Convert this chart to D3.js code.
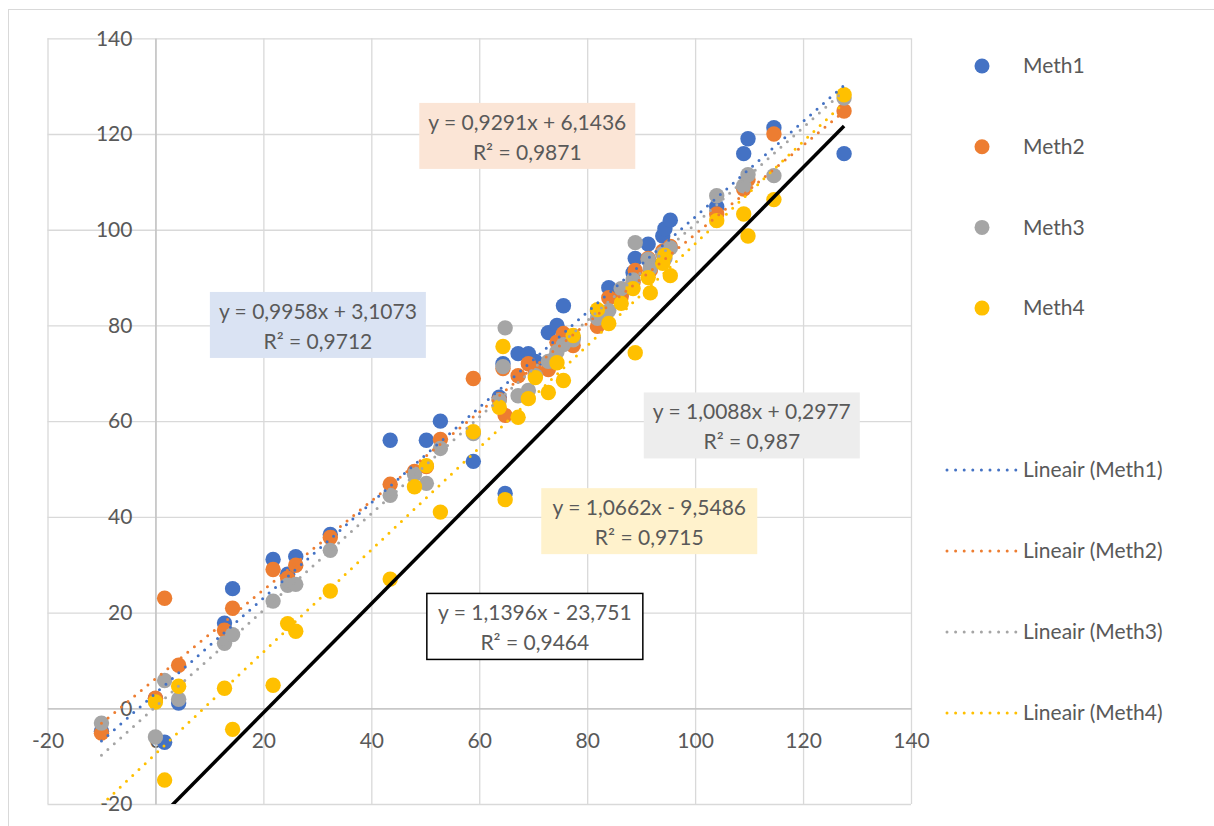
<!DOCTYPE html>
<html>
<head>
<meta charset="utf-8">
<script src="https://cdn.jsdelivr.net/npm/d3@7"></script>
<style>
  body { margin: 0; background: #fff; }
  text { font-family: Lato, "Liberation Sans", sans-serif; fill: #595959; }
</style>
</head>
<body>
<div class="holder"></div>
<script>
"use strict";

// shared sample values (x) and the four methods (y)
const xValues = [
  -10, 0, 1.7, 4.3, 12.8, 14.3, 21.8, 24.5, 26, 32.4,
  43.5, 48, 50.2, 52.8, 58.9, 63.7, 64.4, 64.8, 67.2, 69.1,
  70.4, 72.8, 74.4, 75.6, 77.4, 81.9, 84, 86.3, 88.5, 88.9,
  91.3, 91.7, 94, 94.4, 95.4, 104, 109, 109.8, 114.6, 127.6
];
const meth1 = [
  -4.8, 2.0, -7.1, 1.1, 17.8, 25.0, 31.1, 28.0, 31.7, 36.3,
  56.0, 49.3, 56.0, 60.0, 51.6, 65.0, 72.0, 44.9, 74.1, 74.1,
  72.5, 78.5, 80.0, 84.1, 77.5, 83.0, 87.9, 86.5, 91.0, 94.0,
  97.0, 93.0, 98.7, 100.2, 102.0, 104.8, 115.9, 119.0, 121.3, 115.9
];
const meth2 = [
  -5.2, 2.1, 23.0, 9.0, 16.3, 20.9, 29.0, 27.2, 29.9, 35.7,
  46.8, 49.5, 50.5, 56.2, 68.9, 64.5, 71.0, 61.2, 69.5, 72.0,
  70.5, 70.8, 76.5, 78.3, 75.8, 79.8, 85.8, 86.0, 89.0, 91.5,
  94.0, 91.5, 95.5, 95.0, 96.5, 103.3, 108.5, 110.5, 120.0, 124.8
];
const meth3 = [
  -3.1, -6.0, 5.8, 1.9, 13.6, 15.4, 22.4, 25.7, 25.9, 33.0,
  44.5, 48.9, 47.0, 54.3, 57.4, 64.3, 71.4, 79.5, 65.3, 66.4,
  69.5, 72.5, 74.5, 76.0, 77.0, 81.5, 83.1, 87.7, 89.5, 97.3,
  93.8, 92.0, 95.0, 94.0, 96.2, 107.1, 109.2, 111.5, 111.3, 127.5
];
const meth4 = [
  -22.0, 1.3, -15.0, 4.6, 4.2, -4.4, 4.8, 17.7, 16.1, 24.5,
  27.0, 46.3, 50.7, 41.0, 57.8, 62.9, 75.6, 43.6, 60.8, 64.7,
  69.1, 66.0, 72.2, 68.5, 77.9, 83.3, 80.4, 84.6, 87.7, 74.3,
  90.0, 86.8, 93.0, 94.6, 90.4, 101.9, 103.3, 98.7, 106.3, 128.2
];

const seriesNames = ["Meth1", "Meth2", "Meth3", "Meth4"];
const seriesColors = ["#4472c4", "#ed7d31", "#a5a5a5", "#ffc000"];
const seriesValues = [meth1, meth2, meth3, meth4];

// trendline coefficients as printed on the chart
const slopes = [0.9958, 0.9291, 1.0088, 1.0662];
const intercepts = [3.1073, 6.1436, 0.2977, -9.5486];
const rSquared = [0.9712, 0.9871, 0.987, 0.9715];
const labelFills = ["#dae3f3", "#fbe5d6", "#ededed", "#fff2cc"];
// label box anchors (centre x, top y) in data units
const labelAnchors = [[30.1, 87], [68.9, 126.5], [110.5, 66], [91.5, 46]];

// black reference line
const refSlope = 1.1396;
const refIntercept = -23.751;
const refR2 = 0.9464;
const refAnchor = [70.3, 24];

const tickValues = [-20, 0, 20, 40, 60, 80, 100, 120, 140];

const w = 1214;
const h = 826;
const plotLeft = 47.5, plotRight = 911, plotTop = 38.3, plotBottom = 804;

const x = d3.scaleLinear().domain([-20, 140]).range([plotLeft, plotRight]);
const y = d3.scaleLinear().domain([-20, 140]).range([plotBottom, plotTop]);

const fmt = (v) => String(Math.abs(v)).replace(".", ",");
const eqText = (a, b) =>
  "y = " + fmt(a) + "x " + (b < 0 ? "- " : "+ ") + fmt(b);

const svg = d3
  .select(".holder")
  .append("svg")
  .attr("width", w)
  .attr("height", h);

// chart border
svg
  .append("rect")
  .attr("x", 8.5)
  .attr("y", 9.5)
  .attr("width", w + 20)
  .attr("height", h + 20)
  .attr("fill", "none")
  .attr("stroke", "#d9d9d9");

svg
  .append("clipPath")
  .attr("id", "plot-clip")
  .append("rect")
  .attr("x", plotLeft)
  .attr("y", plotTop)
  .attr("width", plotRight - plotLeft)
  .attr("height", plotBottom - plotTop);

// gridlines
const gridX = svg
  .append("g")
  .attr("transform", "translate(0," + plotBottom + ")")
  .call(d3.axisBottom(x).tickValues(tickValues).tickSize(-(plotBottom - plotTop)).tickFormat(""));
const gridY = svg
  .append("g")
  .attr("transform", "translate(" + plotLeft + ",0)")
  .call(d3.axisLeft(y).tickValues(tickValues).tickSize(-(plotRight - plotLeft)).tickFormat(""));
[gridX, gridY].forEach((g) => {
  g.select(".domain").remove();
  g.selectAll("line").attr("stroke", "#d9d9d9").attr("stroke-width", 1.3);
});

// axes crossing at zero (plain hyphen for negatives, like Excel)
const tickText = (d) => String(d);
const xAxis = svg
  .append("g")
  .attr("transform", "translate(0," + y(0) + ")")
  .call(d3.axisBottom(x).tickValues(tickValues).tickFormat(tickText).tickSize(0).tickPadding(25));
const yAxis = svg
  .append("g")
  .attr("transform", "translate(" + x(0) + ",0)")
  .call(d3.axisLeft(y).tickValues(tickValues).tickFormat(tickText).tickSize(0).tickPadding(23));
[xAxis, yAxis].forEach((g) => {
  g.select(".domain").attr("stroke", "#bfbfbf").attr("stroke-width", 1.3);
  g.selectAll("text")
    .attr("font-family", "Lato, sans-serif")
    .attr("font-size", 21)
    .attr("fill", "#595959");
});

const plot = svg.append("g").attr("clip-path", "url(#plot-clip)");

// markers
seriesValues.forEach((values, s) => {
  plot
    .append("g")
    .selectAll("circle")
    .data(values)
    .enter()
    .append("circle")
    .attr("cx", (d, i) => x(xValues[i]))
    .attr("cy", (d) => y(d))
    .attr("r", 7.7)
    .attr("fill", seriesColors[s]);
});

// dotted trendlines
const xMin = d3.min(xValues);
const xMax = d3.max(xValues);
const line = d3
  .line()
  .x((d) => x(d[0]))
  .y((d) => y(d[1]));
slopes.forEach((a, s) => {
  const b = intercepts[s];
  plot
    .append("path")
    .attr("d", line([[xMin, a * xMin + b], [xMax, a * xMax + b]]))
    .attr("fill", "none")
    .attr("stroke", seriesColors[s])
    .attr("stroke-width", 3)
    .attr("stroke-linecap", "round")
    .attr("stroke-dasharray", "0 8.6");
});

// black line
plot
  .append("path")
  .attr("d", line([[xMin, refSlope * xMin + refIntercept], [xMax, refSlope * xMax + refIntercept]]))
  .attr("fill", "none")
  .attr("stroke", "#000")
  .attr("stroke-width", 3.5);

// equation boxes
const drawLabel = (cx, ty, text1, text2, fill, stroke) => {
  const g = svg.append("g");
  g.append("rect")
    .attr("x", x(cx) - 108)
    .attr("y", y(ty))
    .attr("width", 216)
    .attr("height", 66)
    .attr("fill", fill)
    .attr("stroke", stroke || "none")
    .attr("stroke-width", 1.5);
  g.append("text")
    .attr("x", x(cx))
    .attr("y", y(ty) + 27)
    .attr("text-anchor", "middle")
    .attr("font-size", 21)
    .text(text1);
  g.append("text")
    .attr("x", x(cx))
    .attr("y", y(ty) + 57)
    .attr("text-anchor", "middle")
    .attr("font-size", 21)
    .text(text2);
};
slopes.forEach((a, s) => {
  drawLabel(
    labelAnchors[s][0],
    labelAnchors[s][1],
    eqText(a, intercepts[s]),
    "R² = " + fmt(rSquared[s]),
    labelFills[s]
  );
});
drawLabel(refAnchor[0], refAnchor[1], eqText(refSlope, refIntercept), "R² = " + fmt(refR2), "#fff", "#000");

// legend
const legend = svg.append("g");
seriesNames.forEach((name, s) => {
  const ly = 66 + s * 80.7;
  legend.append("circle").attr("cx", 982).attr("cy", ly).attr("r", 7.5).attr("fill", seriesColors[s]);
  legend
    .append("text")
    .attr("x", 1023)
    .attr("y", ly)
    .attr("dy", "0.35em")
    .attr("font-size", 21)
    .text(name);
});
seriesNames.forEach((name, s) => {
  const ly = 470 + s * 81;
  legend
    .append("line")
    .attr("x1", 947)
    .attr("x2", 1016)
    .attr("y1", ly)
    .attr("y2", ly)
    .attr("stroke", seriesColors[s])
    .attr("stroke-width", 3)
    .attr("stroke-linecap", "round")
    .attr("stroke-dasharray", "0 8.6");
  legend
    .append("text")
    .attr("x", 1023)
    .attr("y", ly)
    .attr("dy", "0.35em")
    .attr("font-size", 21)
    .text("Lineair (" + name + ")");
});
</script>
</body>
</html>
